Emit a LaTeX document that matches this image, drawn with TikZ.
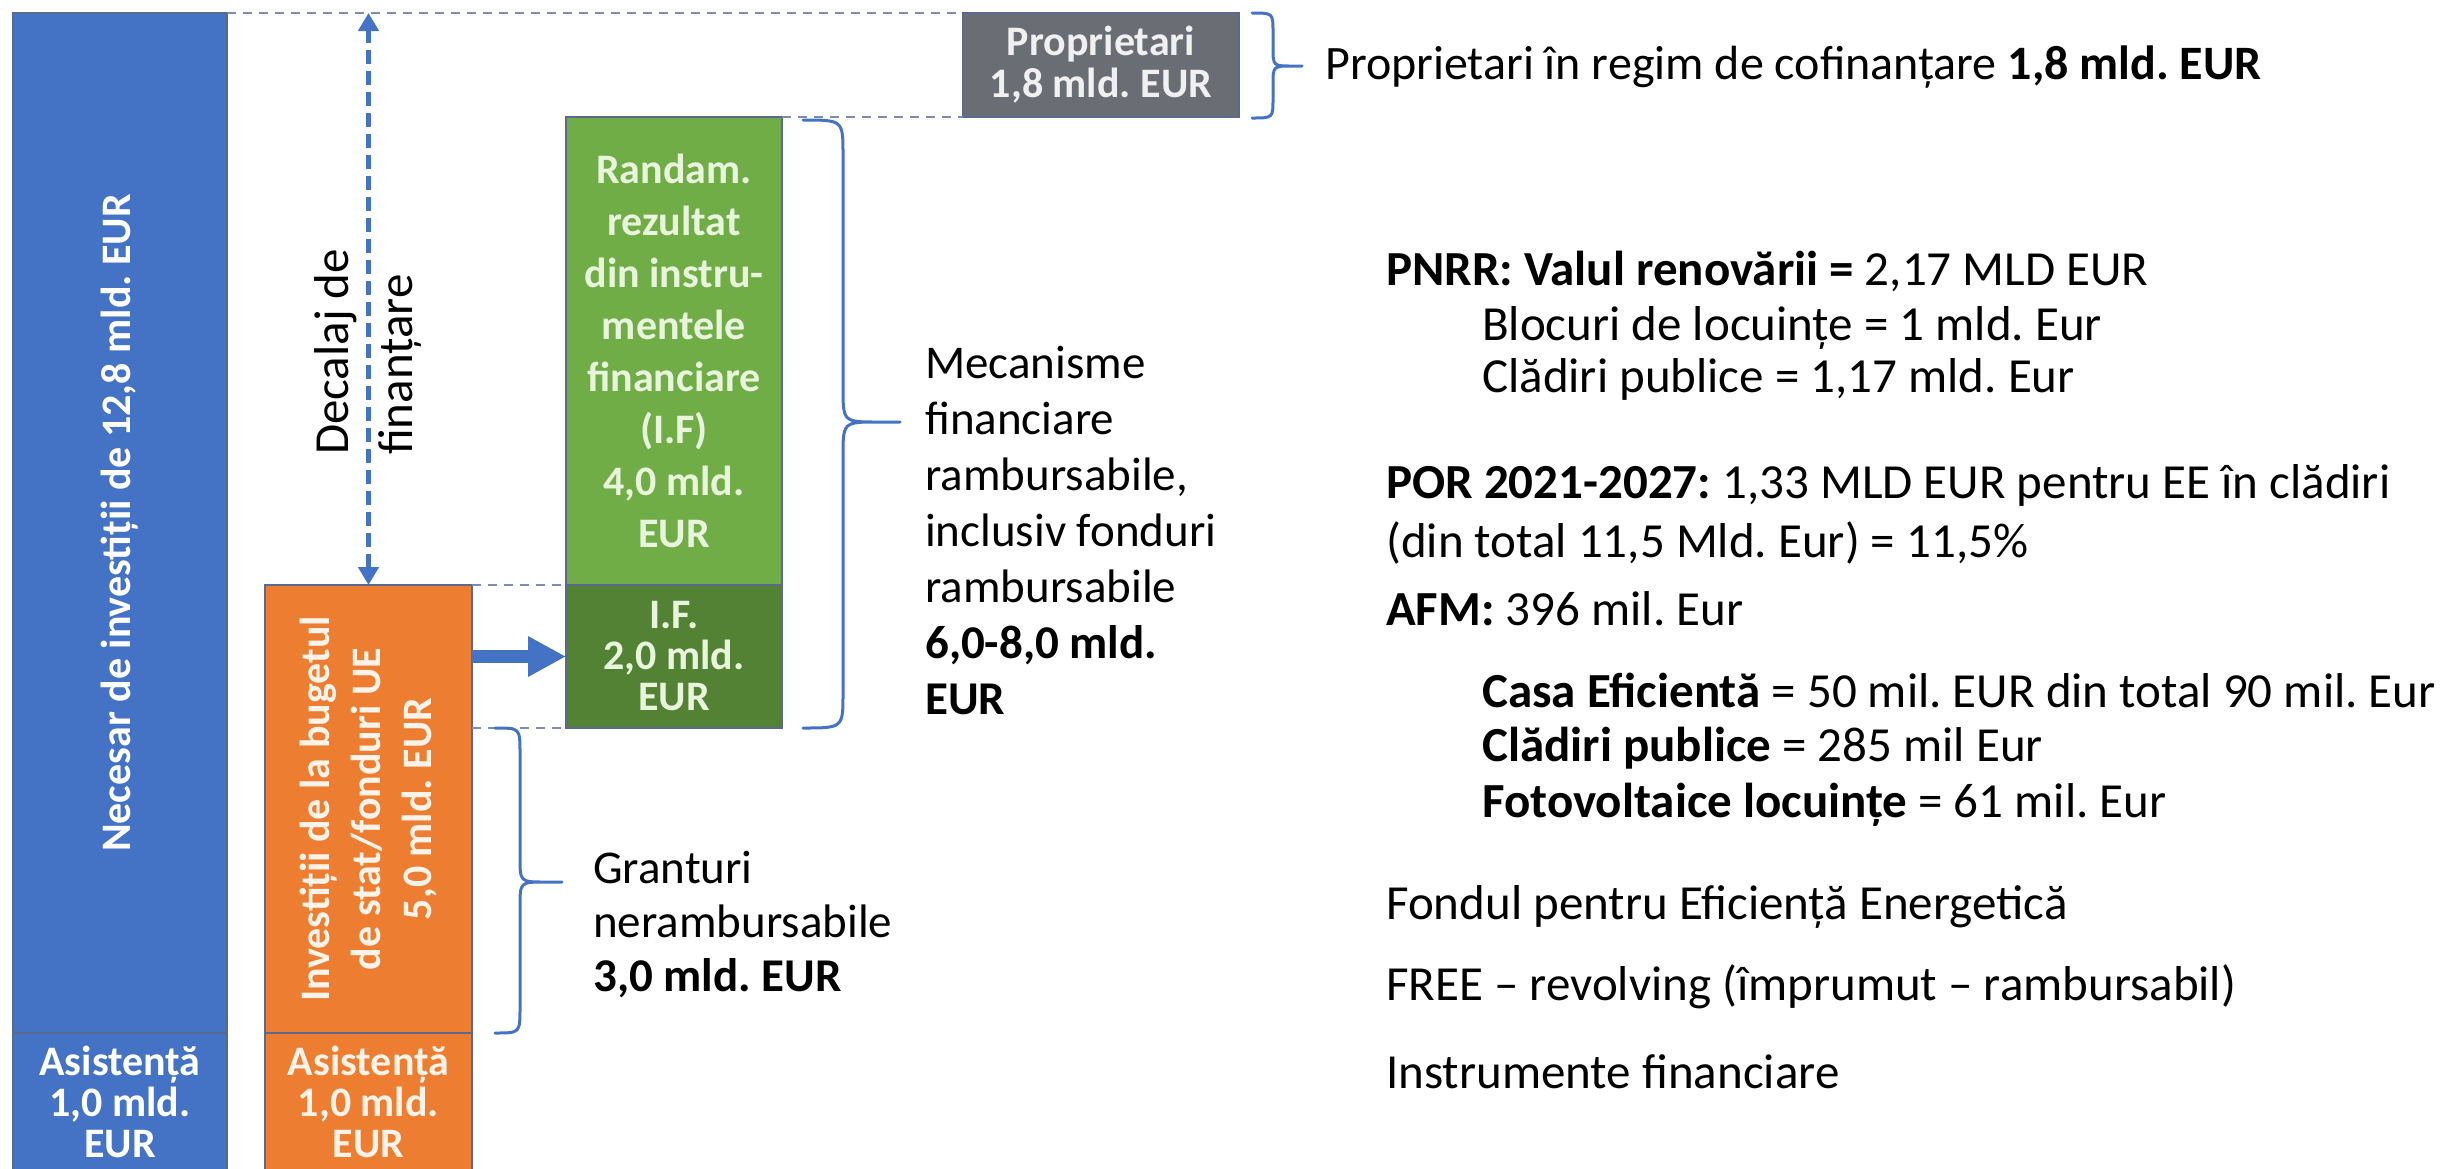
\documentclass[tikz,border=0pt]{standalone}
\usepackage{fontspec}
\setmainfont{Carlito}
\usetikzlibrary{arrows.meta}
\definecolor{cblue}{HTML}{4472C4}
\definecolor{corange}{HTML}{ED7D31}
\definecolor{cgreen}{HTML}{70AD47}
\definecolor{cdgreen}{HTML}{548235}
\definecolor{cgray}{HTML}{6B6D75}
\definecolor{cedge}{HTML}{5A6A8E}
\definecolor{cdash}{HTML}{7A8CB5}
\definecolor{ctxtO}{HTML}{FDF3E8}
\definecolor{ctxtG}{HTML}{E8F5DC}
\definecolor{ctxtP}{HTML}{F0F0F0}
\newcommand\mybrace[7]{%
  \draw[bracestyle] (#1,#4) .. controls (#2,#4) .. (#2,#4+#7) -- (#2,#5-#7)
    .. controls (#2,#5) .. (#2+#7,#5) -- (#3,#5)
    (#2+#7,#5) .. controls (#2,#5) .. (#2,#5+#7) -- (#2,#6-#7)
    .. controls (#2,#6) .. (#1,#6);}
\begin{document}
\frenchspacing
\begin{tikzpicture}[x=1pt,y=-1pt,
  box/.style={draw=cedge, line width=2.5pt, inner sep=0pt, outer sep=0pt, anchor=north west},
  boxtxt/.style={font=\fontsize{42}{41}\selectfont\bfseries, align=center, inner sep=0pt},
  rtext/.style={anchor=base west, inner sep=0pt, font=\fontsize{47}{56}\selectfont},
  ltext/.style={anchor=base west, inner sep=0pt, font=\fontsize{49}{56}\selectfont},
  dashln/.style={draw=cdash, line width=2.5pt, dash pattern=on 9pt off 7pt},
  bracestyle/.style={draw=cblue, line width=3pt, line cap=round, line join=round},
  gaparrow/.style={draw=cblue, line width=5pt, dash pattern=on 14pt off 7pt,
     {Triangle[length=18pt,width=20pt]}-{Triangle[length=18pt,width=20pt]}},
  bigarrow/.style={draw=cblue, line width=13pt, -{Triangle[length=38pt,width=38pt]}}]
\useasboundingbox[fill=white] (0,0) rectangle (2445,1168);

% boxes
\node[box, fill=cblue, minimum width=214pt, minimum height=1020pt] (need) at (13,13) {};
\node[box, fill=cblue, minimum width=214pt, minimum height=137pt] (needA) at (13,1033) {};
\node[box, fill=corange, minimum width=207pt, minimum height=448pt] (inv) at (265,585) {};
\node[box, fill=corange, minimum width=207pt, minimum height=137pt] (invA) at (265,1033) {};
\node[box, fill=cgreen, minimum width=216pt, minimum height=468pt] (rand) at (566,117) {};
\node[box, fill=cdgreen, minimum width=216pt, minimum height=143pt] (ifb) at (566,585) {};
\node[box, fill=cgray, minimum width=276pt, minimum height=104pt] (prop) at (963,13) {};

% box texts
\node[boxtxt, text=white, rotate=90] (needT) at (need.center) {Necesar de investiții de 12,8 mld. EUR};
\node[boxtxt, text=white] (needAT) at (needA.center) {Asistență\\1,0 mld.\\EUR};
\node[boxtxt, text=ctxtO, rotate=90, font=\fontsize{42}{51}\selectfont\bfseries] (invT) at (inv.center) {Investiții de la bugetul\\de stat/fonduri UE\\5,0 mld. EUR};
\node[boxtxt, text=ctxtO] (invAT) at (invA.center) {Asistență\\1,0 mld.\\EUR};
\node[boxtxt, text=ctxtG, font=\fontsize{42}{52}\selectfont\bfseries] (randT) at (rand.center) {Randam.\\rezultat\\din instru-\\mentele\\financiare\\(I.F)\\4,0 mld.\\EUR};
\node[boxtxt, text=ctxtG] (ifbT) at (ifb.center) {I.F.\\2,0 mld.\\EUR};
\node[boxtxt, text=ctxtP, font=\fontsize{42}{42}\selectfont\bfseries] (propT) at (prop.center) {Proprietari\\1,8 mld. EUR};

% dashed guide lines
\draw[dashln] (need.north east) -- (prop.north west);
\draw[dashln] (rand.north east) -- (prop.south west);
\draw[dashln] (inv.north east) -- (ifb.north west);
\draw[dashln] (ifb.south west -| inv.east) -- (ifb.south west);

% arrows
\draw[gaparrow] (inv.north) -- (inv.north |- need.north);
\draw[bigarrow] (ifb.west -| inv.east) -- (ifb.west);
\node[font=\fontsize{49}{64}\selectfont, rotate=90, align=left, inner sep=0pt] (gapT) at (368,352) {Decalaj de\\finanțare};

% braces
\mybrace{1252}{1273}{1302}{13}{66}{118}{19}
\mybrace{803}{843}{900}{120}{422}{728}{35}
\mybrace{495}{520}{562}{728}{882}{1033}{25}

% brace labels
\node[rtext, font=\fontsize{48}{56}\selectfont] (propL) at (1325,79) {Proprietari în regim de cofinanțare \textbf{1,8 mld. EUR}};
\node[rtext] (mec1) at (925,378) {Mecanisme};
\node[rtext] (mec2) at (925,434) {financiare};
\node[rtext] (mec3) at (925,490) {rambursabile,};
\node[rtext] (mec4) at (925,546) {inclusiv fonduri};
\node[rtext] (mec5) at (925,602) {rambursabile};
\node[rtext] (mec6) at (925,658) {\textbf{6,0-8,0 mld.}};
\node[rtext] (mec7) at (925,714) {\textbf{EUR}};
\node[rtext] (gr1) at (593,883) {Granturi};
\node[rtext] (gr2) at (593,937) {nerambursabile};
\node[rtext] (gr3) at (593,991) {\textbf{3,0 mld. EUR}};

% right-hand list
\node[ltext] (r1) at (1386,285) {\textbf{PNRR: Valul renovării =} 2,17 MLD EUR};
\node[ltext] (r2) at (1482,340) {Blocuri de locuințe = 1 mld. Eur};
\node[ltext] (r3) at (1482,392) {Clădiri publice = 1,17 mld. Eur};
\node[ltext] (r4) at (1386,498) {\textbf{POR 2021-2027:} 1,33 MLD EUR pentru EE în clădiri};
\node[ltext] (r5) at (1386,557) {(din total 11,5 Mld. Eur) = 11,5\%};
\node[ltext] (r6) at (1386,625) {\textbf{AFM:} 396 mil. Eur};
\node[ltext] (r7) at (1482,707) {\textbf{Casa Eficientă} = 50 mil. EUR din total 90 mil. Eur};
\node[ltext] (r8) at (1482,761) {\textbf{Clădiri publice} = 285 mil Eur};
\node[ltext] (r9) at (1482,817) {\textbf{Fotovoltaice locuințe} = 61 mil. Eur};
\node[ltext] (r10) at (1386,919) {Fondul pentru Eficiență Energetică};
\node[ltext] (r11) at (1386,1000) {FREE – revolving (împrumut – rambursabil)};
\node[ltext] (r12) at (1386,1088) {Instrumente financiare};
\end{tikzpicture}
\end{document}
